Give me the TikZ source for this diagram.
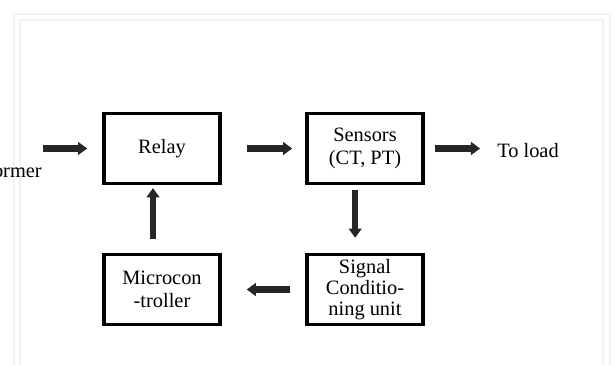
\documentclass[tikz,border=0pt]{standalone}
\usepackage{fontspec}
\setmainfont{Liberation Serif}
\usetikzlibrary{arrows.meta}

\begin{document}
\begin{tikzpicture} [x = 0.025cm, y = -0.025cm,
	block/.style = {draw, line width = 2.6pt, minimum width = 2.9cm, minimum height = 1.75cm, align = center, inner sep = 1pt, font = \fontsize{14.5}{16.5}\selectfont},
	flow/.style = {black!85, line width = 4.3pt, -{Triangle[length = 6.5pt, width = 9pt]}},
	note/.style = {inner sep = 0pt, font = \fontsize{14.5}{16.5}\selectfont}]
	\useasboundingbox (0,0) rectangle (616,365);
	% faint frame of the page
	\draw [black!5, line width = 0.8pt] (14,375) -- (14,14) -- (610,14) -- (610,375);
	\draw [black!5, line width = 0.8pt] (20,375) -- (20,20) -- (603,20) -- (603,375);
	% blocks
	\node [block] (relay) at (162,148.5) {Relay};
	\node [block] (sensors) at (365,148.5) {Sensors\\(CT, PT)};
	\node [block] (micro) at (162,289.5) {Microcon\\-troller};
	\node [block, font = \fontsize{14.5}{15}\selectfont] (signal) at (365,289.5) {Signal\\Conditio-\\ning unit};
	\coordinate (src) at (43,148.5);
	\node [note, anchor = east] (srctext) at (42,170) {transformer};
	\node [note, anchor = west] (load) at (497,151) {To load};
	% arrows
	\draw [flow, shorten >= 10.6pt] (src) -- (relay.west |- src);
	\draw [flow, shorten <= 17.7pt, shorten >= 9.2pt] (relay) -- (sensors);
	\draw [flow, shorten <= 7pt, shorten >= 12pt] (sensors) -- (load.west |- sensors);
	\draw [flow, shorten <= 3.5pt, shorten >= 10.6pt] ([xshift = -7pt] sensors.south) -- ([xshift = -7pt] signal.north);
	\draw [flow, shorten <= 10.6pt, shorten >= 17.7pt] (signal) -- (micro);
	\draw [flow, shorten <= 10pt, shorten >= 2pt] ([xshift = -6.4pt] micro.north) -- ([xshift = -6.4pt] relay.south);
\end{tikzpicture}
\end{document}
